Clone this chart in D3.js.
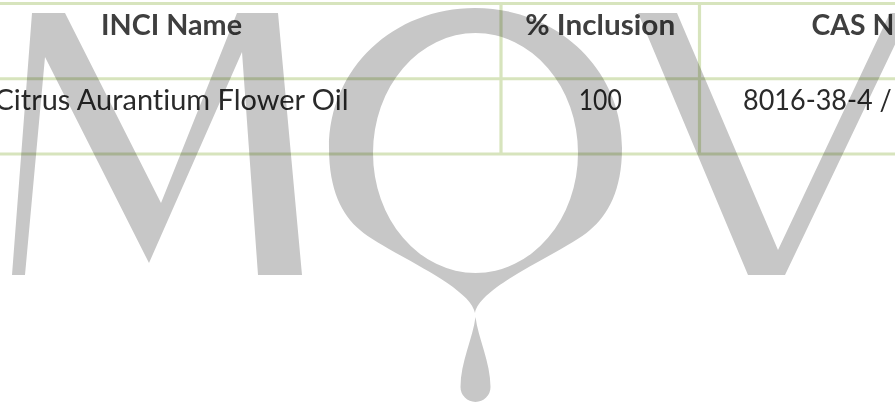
<!DOCTYPE html>
<html>
<head>
<meta charset="utf-8">
<script src="https://cdn.jsdelivr.net/npm/d3@7"></script>
<style>
  html, body { margin: 0; padding: 0; background: #ffffff; overflow: hidden; }
  svg { display: block; }
  text { font-variant-ligatures: none; font-feature-settings: "liga" 0, "clig" 0; }
</style>
</head>
<body>
<div id="chart"></div>
<script>
// ---------- data ----------
const headers     = ["INCI Name", "% Inclusion", "CAS Number"];
const inciNames   = ["Citrus Aurantium Flower Oil"];
const inclusions  = [100];
const casNumbers  = ["8016-38-4 / 72968-50-4"];
const watermark   = "MQV";

// ---------- layout ----------
const W = 895, H = 408;
const colEdges = [-158, 501, 699.5, 1087.5];
const tableTop = 3.5, tableBottom = 154;
const lineColor = "#d7e4bd";
const font = "Lato, 'Open Sans', sans-serif";

const rows = [headers, ...inciNames.map((n, i) => [n, String(inclusions[i]), casNumbers[i]])];

const svg = d3.select("#chart").append("svg")
  .attr("width", W).attr("height", H);
svg.append("rect").attr("width", W).attr("height", H).attr("fill", "#fff");

const y = d3.scaleBand()
  .domain(d3.range(rows.length))
  .range([tableTop, tableBottom]);

const colCenter = i => (colEdges[i] + colEdges[i + 1]) / 2;

// grid lines
const grid = svg.append("g");
const hLines = d3.range(rows.length + 1).map(i => i < rows.length ? y(i) : tableBottom);
grid.selectAll("line.h").data(hLines).join("line")
  .attr("class", "h")
  .attr("x1", 0).attr("x2", W)
  .attr("y1", d => d).attr("y2", d => d)
  .attr("stroke", lineColor).attr("stroke-width", 3.2);
grid.selectAll("line.v").data(colEdges.slice(1, -1)).join("line")
  .attr("class", "v")
  .attr("x1", d => d).attr("x2", d => d)
  .attr("y1", tableTop).attr("y2", tableBottom)
  .attr("stroke", lineColor).attr("stroke-width", 3.2);

// text widths (measured from reference)
const headerLen = [141, 150, 164];
const cellLen   = [[354, 43, 301]];

const tg = svg.append("g").attr("font-family", font);
rows.forEach((r, ri) => {
  tg.selectAll(null).data(r).join("text")
    .attr("x", (d, ci) => colCenter(ci))
    .attr("y", ri === 0 ? 35 : 110)
    .attr("text-anchor", "middle")
    .attr("font-size", ri === 0 ? 28.5 : 29.5)
    .attr("font-weight", ri === 0 ? 700 : 400)
    .attr("fill", ri === 0 ? "#3f3f3f" : "#2a2a2a")
    .attr("textLength", (d, ci) => ri === 0 ? headerLen[ci] : cellLen[ri - 1][ci])
    .attr("lengthAdjust", "spacingAndGlyphs")
    .text(d => d);
});

// watermark logo "MQV" (decorative)
const wm = svg.append("g")
  .attr("fill", "#c7c7c7")
  .style("mix-blend-mode", "multiply")
  .attr("aria-label", watermark);

const line = d3.line();
const mPts = [[32,13],[65,13],[161,203],[237,13],[278,13],[302,275],[258,275],[242,52],[149,263],[45,57],[25,275],[12,275]];
wm.append("path").attr("d", line(mPts) + "Z");

const vPts = [[638,13],[677,13],[778,250],[890,13],[910,13],[785,275],[748,275]];
wm.append("path").attr("d", line(vPts) + "Z");

const qOuter = "M475,8 C556,8 622,68 622,148 C622,190 608,215 590,230 C565,252 480,285 475,313 " +
               "C470,285 385,252 360,230 C342,215 329,190 329,148 C329,68 394,8 475,8 Z";
const cx = 475.5, cy = 153, rx = 102.5, ry = 120;
const qInner = `M${cx},${cy - ry} A${rx},${ry} 0 1 0 ${cx},${cy + ry} A${rx},${ry} 0 1 0 ${cx},${cy - ry} Z`;
wm.append("path").attr("d", qOuter + " " + qInner).attr("fill-rule", "evenodd");

const drop = "M475.5,317 C478,338 490.5,362 490.5,387 A15,15 0 0 1 460.5,387 C460.5,362 473,338 475.5,317 Z";
wm.append("path").attr("d", drop);
</script>
</body>
</html>
